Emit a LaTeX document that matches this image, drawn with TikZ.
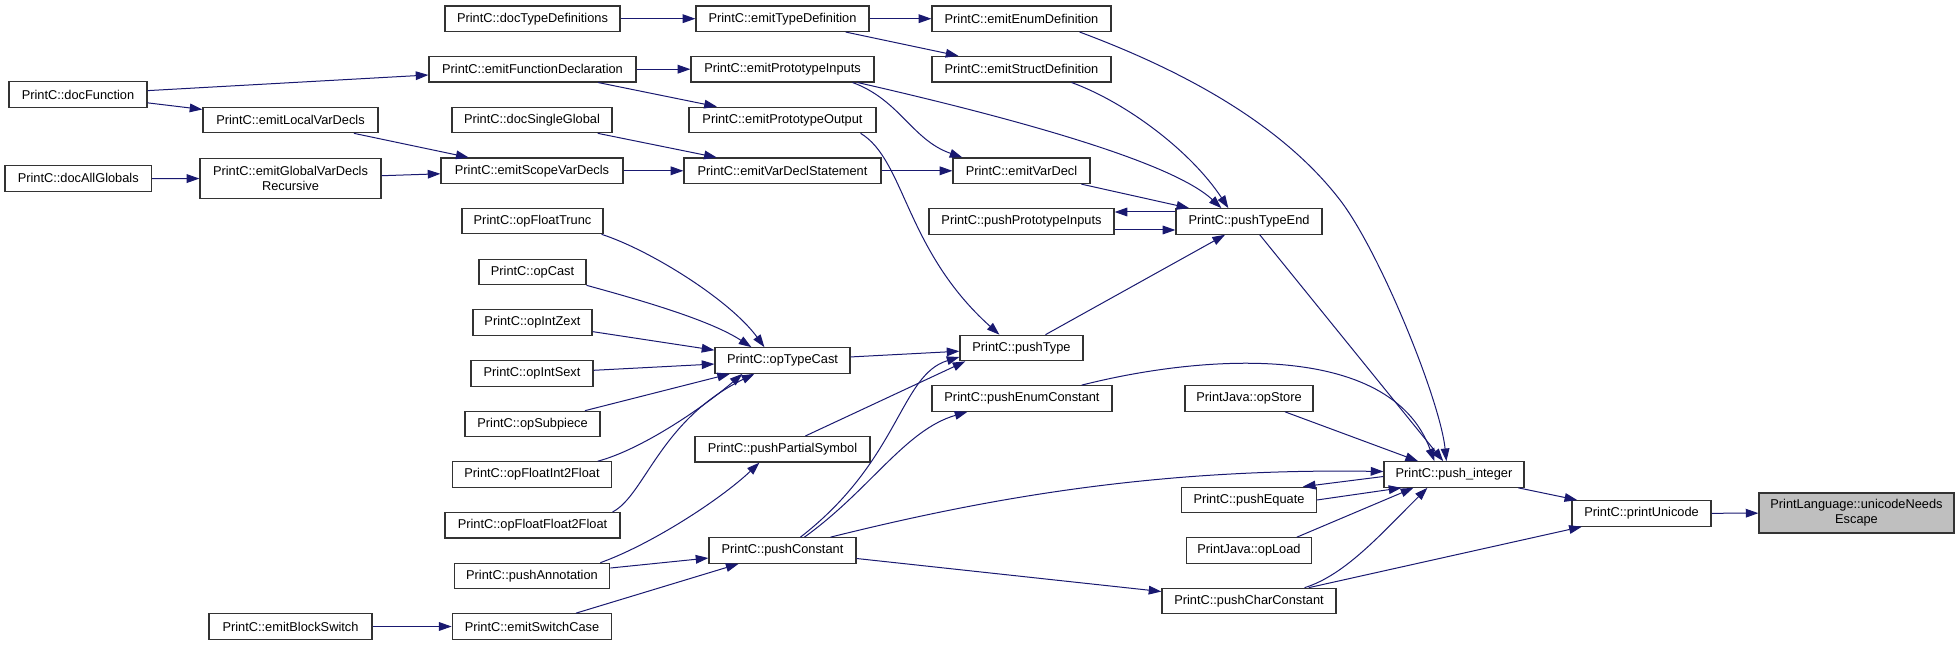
\documentclass[tikz,border=0pt]{standalone}
\usepackage{fontspec}
\setmainfont{Liberation Sans}
\usetikzlibrary{arrows.meta,calc}
\definecolor{edgecol}{HTML}{191970}
\definecolor{rootfill}{HTML}{BFBFBF}
\begin{document}
\begin{tikzpicture}[x=0.75pt,y=-0.75pt,
  box/.style={draw=black!80, line width=0.9pt, fill=white, inner sep=0pt,
    minimum height=19.1pt, font=\fontsize{9.6}{11.5}\selectfont, align=center},
  bw/.style={minimum width=#1*0.75pt},
  bh/.style={minimum height=#1*0.75pt},
  conn/.style={draw=edgecol, line width=0.75pt, -{Triangle[length=9.5pt,width=6.5pt]}}
]
\useasboundingbox (0,0) rectangle (1959,645);
\node[box,bw=175] (dTD) at (532.5,18.7) {PrintC::docTypeDefinitions};
\node[box,bw=173] (eTD) at (782.5,18.7) {PrintC::emitTypeDefinition};
\node[box,bw=179] (eED) at (1021.5,18.7) {PrintC::emitEnumDefinition};
\node[box,bw=207] (eFD) at (532.5,69.2) {PrintC::emitFunctionDeclaration};
\node[box,bw=183] (ePI) at (782.5,69.2) {PrintC::emitPrototypeInputs};
\node[box,bw=179] (eSD) at (1021.5,69.2) {PrintC::emitStructDefinition};
\node[box,bw=138] (dF) at (78,94.5) {PrintC::docFunction};
\node[box,bw=175] (eLV) at (290.5,120) {PrintC::emitLocalVarDecls};
\node[box,bw=160] (dSG) at (532,120) {PrintC::docSingleGlobal};
\node[box,bw=187] (ePO) at (782.5,120) {PrintC::emitPrototypeOutput};
\node[box,bw=146.5] (dAG) at (78.25,178.4) {PrintC::docAllGlobals};
\node[box,bw=181,bh=40] (eGV) at (290.5,178.7) {PrintC::emitGlobalVarDecls\\Recursive};
\node[box,bw=182] (eSV) at (532,170.8) {PrintC::emitScopeVarDecls};
\node[box,bw=197] (eVS) at (782.5,170.8) {PrintC::emitVarDeclStatement};
\node[box,bw=137] (eVD) at (1021.5,170.8) {PrintC::emitVarDecl};
\node[box,bw=185] (pPI) at (1021.5,221.5) {PrintC::pushPrototypeInputs};
\node[box,bw=146] (pTE) at (1249,221.5) {PrintC::pushTypeEnd};
\node[box,bw=141] (oFT) at (532.5,221) {PrintC::opFloatTrunc};
\node[box,bw=107] (oC) at (532.5,272) {PrintC::opCast};
\node[box,bw=119] (oIZ) at (532.5,322.5) {PrintC::opIntZext};
\node[box,bw=122] (oIS) at (532,373.5) {PrintC::opIntSext};
\node[box,bw=135] (oSP) at (532.5,424) {PrintC::opSubpiece};
\node[box,bw=135] (oTC) at (782.5,360.5) {PrintC::opTypeCast};
\node[box,bw=123] (pT) at (1021.5,348) {PrintC::pushType};
\node[box,bw=180] (pEC) at (1022,398.5) {PrintC::pushEnumConstant};
\node[box,bw=128] (jOS) at (1249,398.5) {PrintJava::opStore};
\node[box,bw=158.5] (oFI) at (532,474.5) {PrintC::opFloatInt2Float};
\node[box,bw=175] (pPS) at (782.5,449.3) {PrintC::pushPartialSymbol};
\node[box,bw=140] (pint) at (1454,474.5) {PrintC::push\_integer};
\node[box,bw=134.5] (pEq) at (1249,500) {PrintC::pushEquate};
\node[box,bw=175] (oFF) at (532.5,525.3) {PrintC::opFloatFloat2Float};
\node[box,bw=139] (pU) at (1641.5,513.4) {PrintC::printUnicode};
\node[box,bw=195,bh=40,fill=rootfill] (root) at (1856.5,513) {PrintLanguage::unicodeNeeds\\Escape};
\node[box,bw=147] (pC) at (782.5,550.5) {PrintC::pushConstant};
\node[box,bw=124.5] (jOL) at (1249,550.5) {PrintJava::opLoad};
\node[box,bw=155.5] (pA) at (532,576) {PrintC::pushAnnotation};
\node[box,bw=174] (pCC) at (1249,601) {PrintC::pushCharConstant};
\node[box,bw=163] (eBS) at (290.5,626.5) {PrintC::emitBlockSwitch};
\node[box,bw=159.5] (eSC) at (532,626.5) {PrintC::emitSwitchCase};
% straight connectors
\draw[conn] (dTD) -- (eTD);
\draw[conn] (eTD) -- (eED);
\draw[conn] (eTD) -- (eSD);
\draw[conn] (eFD) -- (ePI);
\draw[conn] (eFD) -- (ePO);
\draw[conn] (dF) -- (eFD);
\draw[conn] (dF) -- (eLV);
\draw[conn] (eLV) -- (eSV);
\draw[conn] (dAG) -- (eGV);
\draw[conn] (eGV) -- (eSV);
\draw[conn] (dSG) -- (eVS);
\draw[conn] (eSV) -- (eVS);
\draw[conn] (eVS) -- (eVD);
\draw[conn] (eVD) -- (pTE);
\draw[conn] ($(pTE.west)+(0,-9.5)$) -- ($(pPI.east)+(0,-9.5)$);
\draw[conn] ($(pPI.east)+(0,8.5)$) -- ($(pTE.west)+(0,8.5)$);
\draw[conn] (pT) -- (pTE);
\draw[conn] (oTC) -- (pT);
\draw[conn] (oIZ) -- (oTC);
\draw[conn] (oIS) -- (oTC);
\draw[conn] (oSP) -- (oTC);
\draw[conn] (pTE) -- (pint);
\draw[conn] (jOS) -- (pint);
\draw[conn] ($(pint.west)+(0,2)$) -- ($(pEq.north east)+(-14,0)$);
\draw[conn] (pEq.east) -- ($(pint.south west)+(18,0)$);
\draw[conn] ($(jOL.north east)+(-15,0)$) -- ($(pint.south west)+(30,0)$);
\draw[conn] (pCC) -- (pU);
\draw[conn] (pint) -- (pU);
\draw[conn] (pU) -- (root);
\draw[conn] (pC) -- (pCC);
\draw[conn] (pA) -- (pC);
\draw[conn] (eSC) -- (pC);
\draw[conn] (eBS) -- (eSC);
\draw[conn] ($(pPS.north west)+(111,0)$) -- ($(pT.south west)+(6,0)$);
% curved connectors
\draw[conn] ($(ePI.south east)+(-22,0)$) .. controls (900,100) and (912,140) .. ($(eVD.north west)+(10,0)$);
\draw[conn] ($(ePI.south east)+(-17,0)$) .. controls (1000,115) and (1170,160) .. ($(pTE.north west)+(46,0)$);
\draw[conn] ($(eSD.south east)+(-40,0)$) .. controls (1125,102) and (1190,150) .. ($(pTE.north west)+(53,0)$);
\draw[conn] ($(eED.south east)+(-32,0)$) .. controls (1179,69) and (1280,122) .. (1340,200) .. controls (1380,252) and (1440,400) .. ($(pint.north west)+(63,0)$);
\draw[conn] ($(ePO.south east)+(-16,0)$) .. controls (905,160) and (905,250) .. ($(pT.north west)+(40,0)$);
\draw[conn] ($(oFT.south east)+(-2,0)$) .. controls (650,250) and (730,300) .. ($(oTC.north west)+(50,0)$);
\draw[conn] (oC.south east) .. controls (640,300) and (710,320) .. ($(oTC.north west)+(37,0)$);
\draw[conn] ($(oFI.north east)+(-14,0)$) .. controls (640,450) and (700,410) .. ($(oTC.south west)+(28,0)$);
\draw[conn] ($(oFF.north east)+(-8,0)$) .. controls (645,495) and (660,420) .. ($(oTC.south west)+(40,0)$);
\draw[conn] ($(pA.north east)+(-10,0)$) .. controls (650,545) and (720,500) .. ($(pPS.south west)+(65,0)$);
\draw[conn] ($(pC.north west)+(92,0)$) .. controls (900,460) and (900,375) .. ($(pT.west)+(0,9)$);
\draw[conn] ($(pC.north west)+(96,0)$) .. controls (870,490) and (905,430) .. ($(pEC.south west)+(36,0)$);
\draw[conn] ($(pEC.north east)+(-31,0)$) .. controls (1200,355) and (1390,340) .. ($(pint.north west)+(51,0)$);
\draw[conn] ($(pC.north west)+(122,0)$) .. controls (980,500) and (1150,468) .. ($(pint.west)+(0,-3)$);
\draw[conn] ($(pCC.north east)+(-32,0)$) .. controls (1345,575) and (1380,535) .. ($(pint.south west)+(44,0)$);
\end{tikzpicture}
\end{document}
